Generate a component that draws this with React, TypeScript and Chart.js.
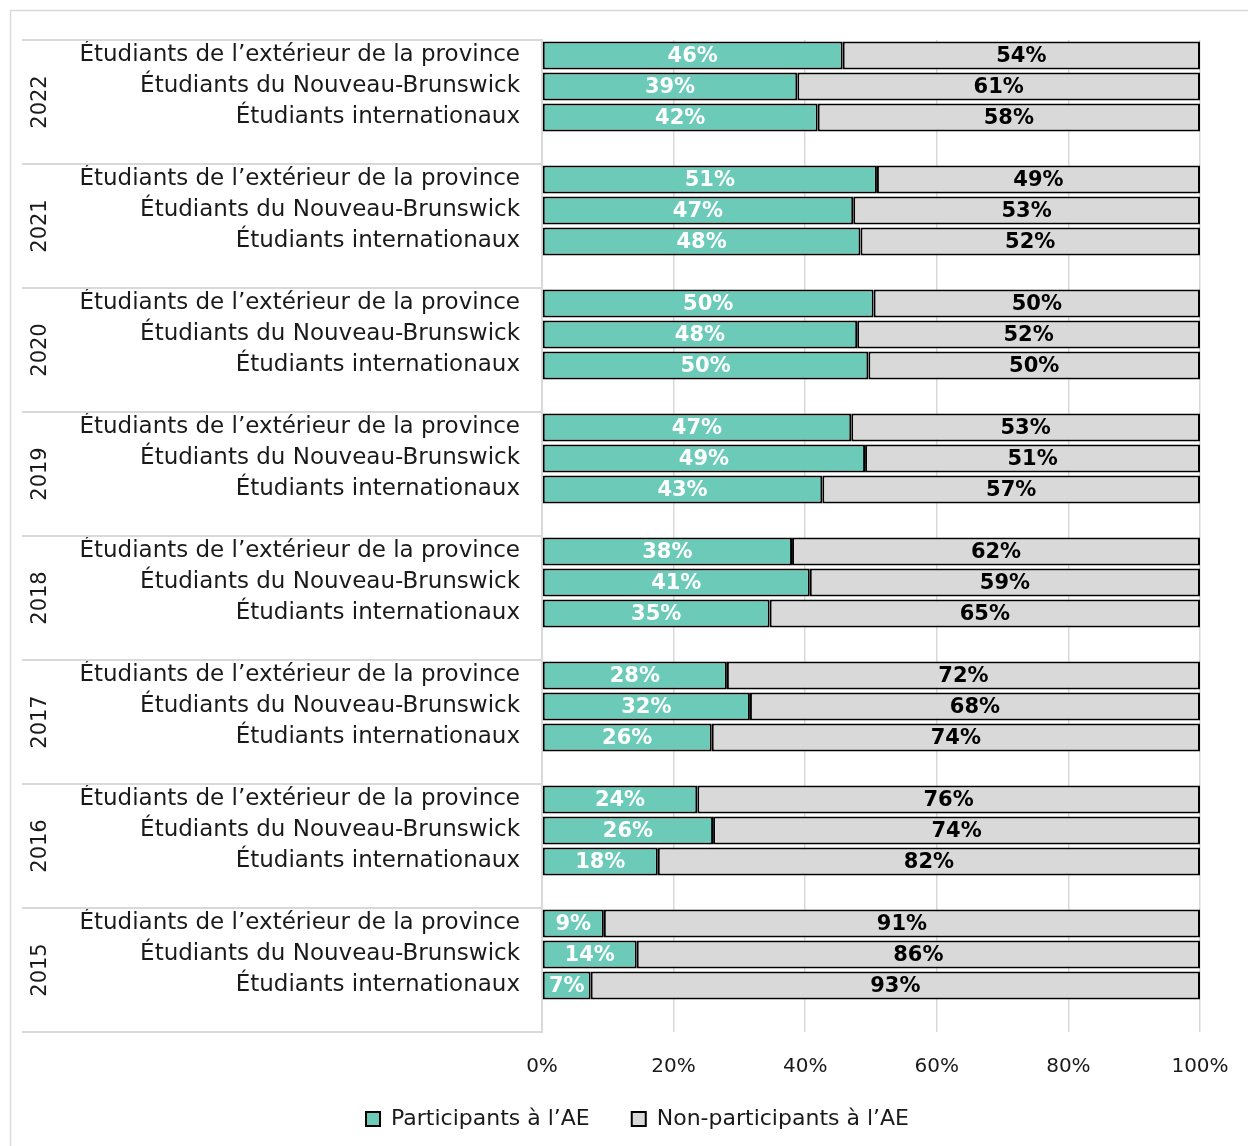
import React, { useEffect, useRef } from "react";
import { Chart, registerables } from "chart.js";

Chart.register(...registerables);

const years = ["2022", "2021", "2020", "2019", "2018", "2017", "2016", "2015"];
const groups = [
  "Étudiants de l’extérieur de la province",
  "Étudiants du Nouveau-Brunswick",
  "Étudiants internationaux",
];
// values per year, in order of groups
const participants = [
  [45.7, 38.8, 41.9],
  [50.9, 47.3, 48.4],
  [50.4, 47.9, 49.6],
  [47.0, 49.1, 42.6],
  [38.0, 40.7, 34.6],
  [28.1, 31.6, 25.8],
  [23.6, 26.0, 17.6],
  [9.4, 14.4, 7.4],
];
const nonParticipants = [
  [54.3, 61.2, 58.1],
  [49.1, 52.7, 51.6],
  [49.6, 52.1, 50.4],
  [53.0, 50.9, 57.4],
  [62.0, 59.3, 65.4],
  [71.9, 68.4, 74.2],
  [76.4, 74.0, 82.4],
  [90.6, 85.6, 92.6],
];
const xTicks = [0, 20, 40, 60, 80, 100];
const seriesNames = ["Participants à l’AE", "Non-participants à l’AE"];
const seriesColors = ["#6ccbb8", "#d9d9d9"];

const FONT = "'DejaVu Sans', sans-serif";

export default function App() {
  const ref = useRef<HTMLCanvasElement | null>(null);

  useEffect(() => {
    document.body.style.margin = "0";
    const canvas = ref.current;
    if (!canvas) return;

    const labels: string[] = [];
    const pData: (number | null)[] = [];
    const nData: (number | null)[] = [];
    years.forEach((y, yi) => {
      groups.forEach((g, gi) => {
        labels.push(g);
        pData.push(participants[yi][gi]);
        nData.push(nonParticipants[yi][gi]);
      });
      labels.push("");
      pData.push(null);
      nData.push(null);
    });

    const decor = {
      id: "decor",
      beforeDraw(chart: any) {
        const ctx = chart.ctx;
        ctx.save();
        ctx.strokeStyle = "#d9d9d9";
        ctx.lineWidth = 1.5;
        ctx.strokeRect(10.5, 10.5, 1400, 1400);
        ctx.restore();
      },
      afterDraw(chart: any) {
        const ctx = chart.ctx;
        const yScale = chart.scales.y;
        const area = chart.chartArea;
        ctx.save();
        // group separators in the category axis area
        ctx.strokeStyle = "#d9d9d9";
        ctx.lineWidth = 2;
        for (let i = 0; i <= years.length; i++) {
          const yy = Math.round(yScale.getPixelForValue(i * 4 - 0.5));
          ctx.beginPath();
          ctx.moveTo(22, yy);
          ctx.lineTo(area.left, yy);
          ctx.stroke();
        }
        // year labels
        ctx.fillStyle = "#1a1a1a";
        ctx.font = `21px ${FONT}`;
        ctx.textAlign = "center";
        ctx.textBaseline = "middle";
        years.forEach((y, i) => {
          const top = yScale.getPixelForValue(i * 4 - 0.5);
          const bot = yScale.getPixelForValue(i * 4 + 3.5);
          ctx.save();
          ctx.translate(41, (top + bot) / 2);
          ctx.rotate(-Math.PI / 2);
          ctx.fillText(y, 0, 0);
          ctx.restore();
        });
        // data labels
        ctx.font = `bold 21px ${FONT}`;
        chart.data.datasets.forEach((ds: any, di: number) => {
          const meta = chart.getDatasetMeta(di);
          ctx.fillStyle = di === 0 ? "#ffffff" : "#000000";
          meta.data.forEach((bar: any, idx: number) => {
            const v = ds.data[idx];
            if (v == null) return;
            const cx = (bar.x + bar.base) / 2;
            ctx.fillText(Math.round(v) + "%", cx, bar.y + 1);
          });
        });
        ctx.restore();
      },
    };

    const chart = new Chart(canvas, {
      type: "bar",
      data: {
        labels,
        datasets: [
          {
            label: seriesNames[0],
            data: pData,
            backgroundColor: seriesColors[0],
            borderColor: "#000000",
            borderWidth: 2,
            borderSkipped: false,
          },
          {
            label: seriesNames[1],
            data: nData,
            backgroundColor: seriesColors[1],
            borderColor: "#000000",
            borderWidth: 2,
            borderSkipped: false,
          },
        ],
      },
      options: {
        indexAxis: "y",
        animation: false,
        responsive: false,
        maintainAspectRatio: false,
        layout: { padding: { top: 40, right: 48, left: 75, bottom: 6 } },
        datasets: { bar: { categoryPercentage: 1, barPercentage: 0.9 } },
        scales: {
          x: {
            stacked: true,
            min: 0,
            max: 100,
            afterBuildTicks(scale: any) {
              scale.ticks = xTicks.map((v) => ({ value: v }));
            },
            afterFit(scale: any) {
              scale.height = 48;
              scale.paddingRight = 0;
              scale.paddingLeft = 0;
            },
            grid: { color: "#d9d9d9", lineWidth: 1.5, drawTicks: false },
            border: { display: false },
            ticks: {
              padding: 23,
              color: "#1a1a1a",
              font: { family: FONT, size: 20 },
              callback: (v: any) => v + "%",
            },
          },
          y: {
            stacked: true,
            afterFit(scale: any) {
              scale.width = 467;
            },
            grid: { display: false, drawTicks: false },
            border: { display: true, color: "#d9d9d9", width: 2 },
            ticks: {
              padding: 22,
              color: "#1a1a1a",
              autoSkip: false,
              font: { family: FONT, size: 23 },
            },
          },
        },
        plugins: {
          legend: {
            position: "bottom",
            labels: {
              boxWidth: 14,
              boxHeight: 14,
              padding: 28,
              color: "#1a1a1a",
              font: { family: FONT, size: 22 },
              generateLabels(chart: any) {
                const items = Chart.defaults.plugins.legend.labels.generateLabels(chart);
                items.forEach((it: any, i: number) => {
                  if (i < items.length - 1) it.text = it.text + "\u00a0\u00a0";
                });
                return items;
              },
            },
          },
          tooltip: { enabled: false },
        },
      },
      plugins: [decor],
    } as any);

    return () => chart.destroy();
  }, []);

  return (
    <canvas
      ref={ref}
      width={1248}
      height={1146}
      style={{ display: "block", width: 1248, height: 1146 }}
    />
  );
}
